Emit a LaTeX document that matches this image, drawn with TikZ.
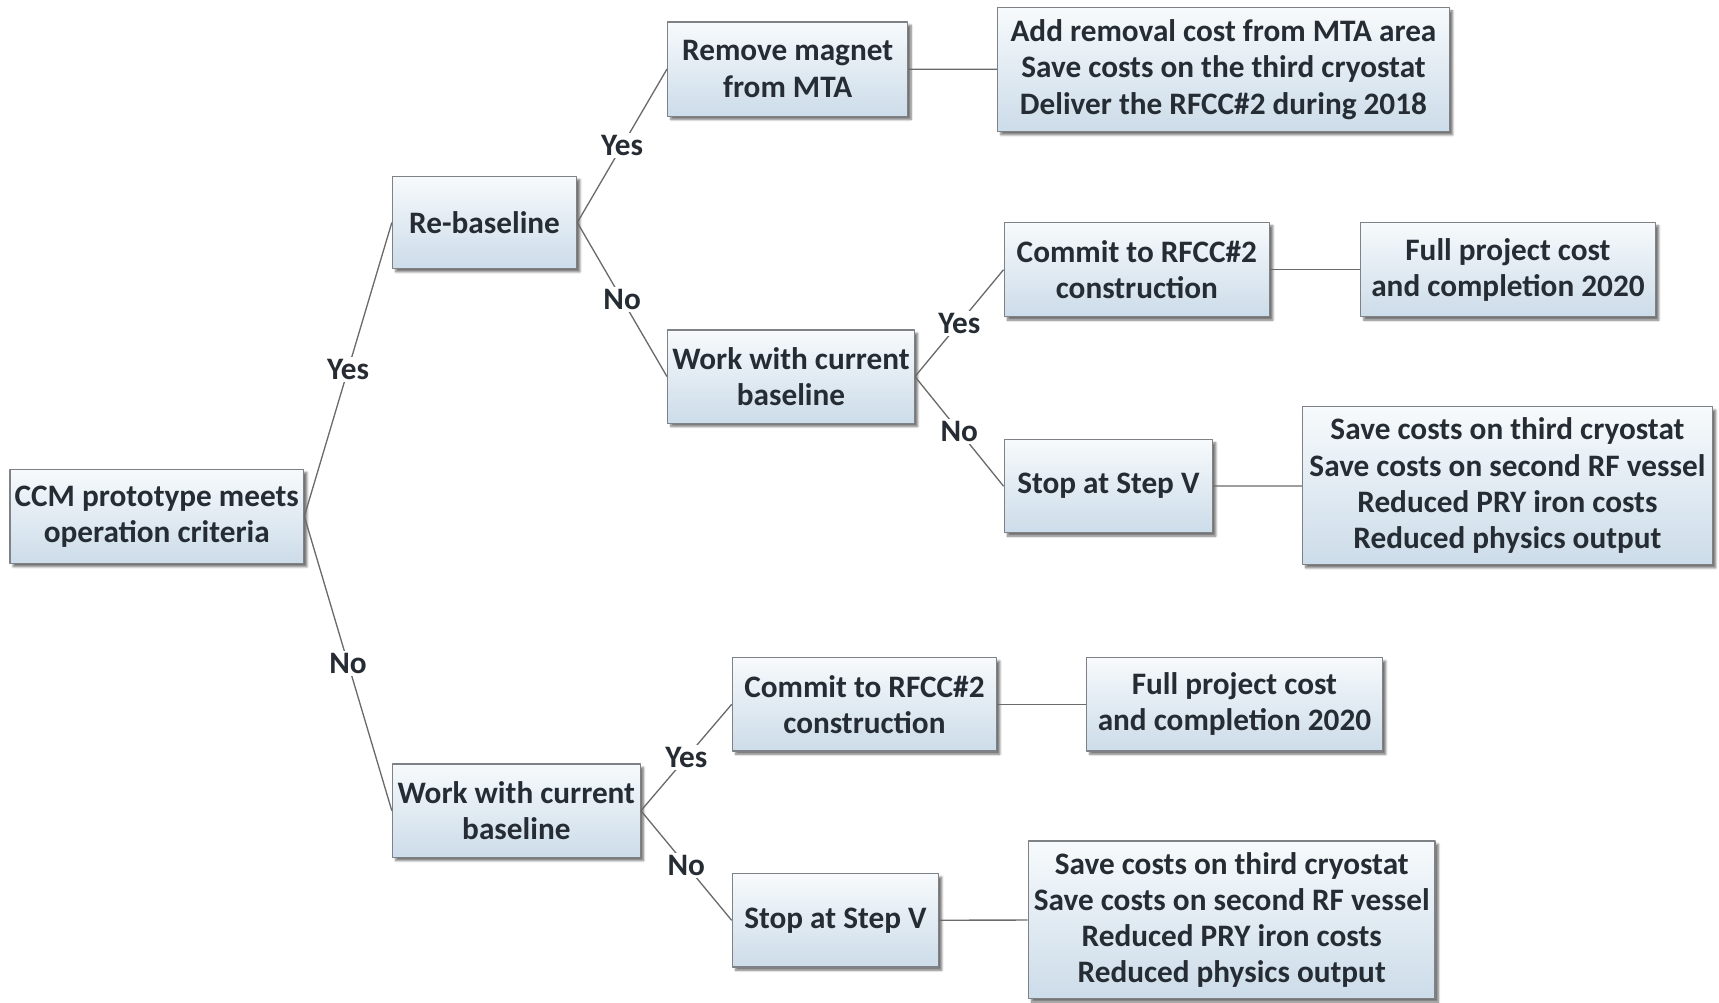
\documentclass[tikz,border=0pt]{standalone}
\usepackage{fontspec}
\setmainfont{Carlito}
\usetikzlibrary{shadows.blur}
\definecolor{boxtop}{HTML}{F7FAFC}
\definecolor{boxbot}{HTML}{CCDCE9}
\definecolor{boxline}{HTML}{7E8185}
\definecolor{inkc}{HTML}{262C33}
\definecolor{linkc}{HTML}{6A6A6A}
\begin{document}
\begin{tikzpicture}[line join=bevel,
  every node/.style={font=\fontsize{28.5bp}{33bp}\selectfont\bfseries, text=inkc},
  tbox/.style={draw=boxline, line width=1.2bp, top color=boxtop, bottom color=boxbot,
    inner sep=0pt, align=center,
    blur shadow={shadow xshift=3bp, shadow yshift=-3bp, shadow blur steps=6, shadow opacity=55}},
  link/.style={draw=linkc, line width=1.2bp},
  ans/.style={fill=white, inner sep=2bp},
]
\useasboundingbox (0bp,0bp) rectangle (1568bp,914bp);
%%
\node (ccm) at (143bp,443bp) [tbox,minimum width=268bp,minimum height=86bp] {CCM prototype meets\\operation criteria};
  \node (rebase) at (442bp,711bp) [tbox,minimum width=168bp,minimum height=84bp] {Re-baseline};
  \node (remove) at (718.5bp,851bp) [tbox,minimum width=219bp,minimum height=86bp] {Remove magnet\\from MTA};
  \node (addcost) at (1116bp,850.5bp) [tbox,minimum width=412bp,minimum height=113bp] {Add removal cost from MTA area\\Save costs on the third cryostat\\Deliver the RFCC\#2 during 2018};
  \node (work_a) at (721.5bp,570.5bp) [tbox,minimum width=225bp,minimum height=85bp] {Work with current\\baseline};
  \node (commit_a) at (1037bp,668bp) [tbox,minimum width=242bp,minimum height=86bp] {Commit to RFCC\#2\\construction};
  \node (full_a) at (1375.5bp,668bp) [tbox,minimum width=269bp,minimum height=86bp] {Full project cost\\and completion 2020};
  \node (stop_a) at (1011bp,470.5bp) [tbox,minimum width=190bp,minimum height=85bp] {Stop at Step V};
  \node (save_a) at (1375bp,471bp) [tbox,minimum width=374bp,minimum height=144bp] {Save costs on third cryostat\\Save costs on second RF vessel\\Reduced PRY iron costs\\Reduced physics output};
  \node (work_b) at (471bp,174.5bp) [tbox,minimum width=226bp,minimum height=85bp] {Work with current\\baseline};
  \node (commit_b) at (788.5bp,271.5bp) [tbox,minimum width=241bp,minimum height=85bp] {Commit to RFCC\#2\\construction};
  \node (full_b) at (1126bp,271.5bp) [tbox,minimum width=270bp,minimum height=85bp] {Full project cost\\and completion 2020};
  \node (stop_b) at (762bp,74.5bp) [tbox,minimum width=188bp,minimum height=85bp] {Stop at Step V};
  \node (save_b) at (1123.5bp,75bp) [tbox,minimum width=371bp,minimum height=144bp] {Save costs on third cryostat\\Save costs on second RF vessel\\Reduced PRY iron costs\\Reduced physics output};
%
  \draw [link] (ccm.east) -- node [ans] {Yes} (rebase.west);
  \draw [link] (ccm.east) -- node [ans] {No} (work_b.west);
  \draw [link] (rebase.east) -- node [ans] {Yes} (remove.west);
  \draw [link] (rebase.east) -- node [ans] {No} (work_a.west);
  \draw [link] (work_a.east) -- node [ans] {Yes} (commit_a.west);
  \draw [link] (work_a.east) -- node [ans] {No} (stop_a.west);
  \draw [link] (work_b.east) -- node [ans] {Yes} (commit_b.west);
  \draw [link] (work_b.east) -- node [ans] {No} (stop_b.west);
  \draw [link] (remove) -- (addcost);
  \draw [link] (commit_a) -- (full_a);
  \draw [link] (stop_a) -- (save_a);
  \draw [link] (commit_b) -- (full_b);
  \draw [link] (stop_b) -- (save_b);
%
\end{tikzpicture}
\end{document}
